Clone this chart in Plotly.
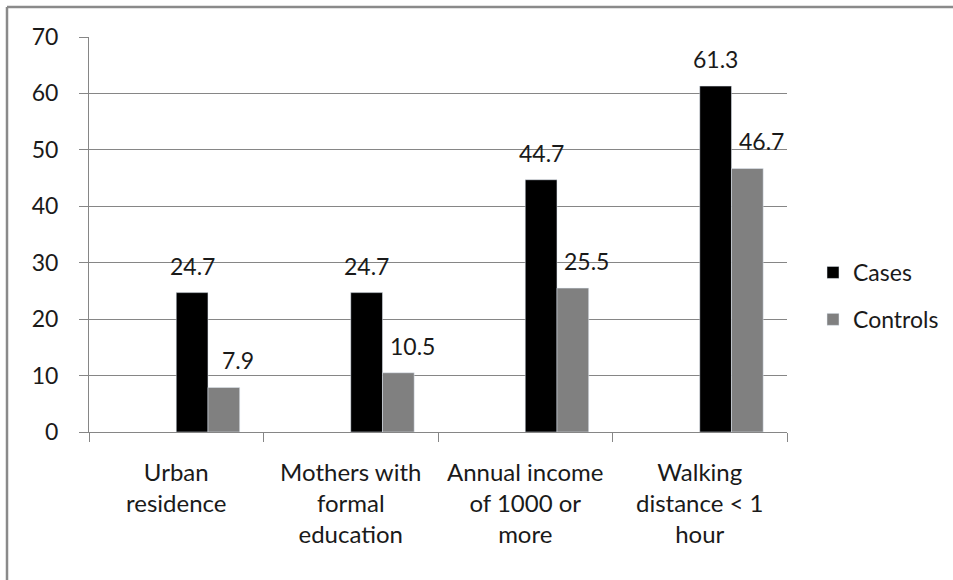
import plotly.graph_objects as go

categories = ["Urban<br>residence", "Mothers with<br>formal<br>education",
              "Annual income<br>of 1000 or<br>more", "Walking<br>distance < 1<br>hour"]
cases = [24.7, 24.7, 44.7, 61.3]
controls = [7.9, 10.5, 25.5, 46.7]

W, H = 953, 580
L, R, T, B = 89, 166, 37, 148
pw, ph = W - L - R, H - T - B

def px_x(p):
    return (p - L) / pw

def px_y(p):
    return (H - B - p) / ph

FONT = "Lato, Carlito, Calibri, sans-serif"
TXT = "#1a1a1a"
GRID = "#868686"
bw = 1 / 5.5

fig = go.Figure()
fig.add_trace(go.Bar(x=categories, y=cases, name="Cases", marker_color="#000000",
                     width=bw, offset=0, legendgroup="a"))
fig.add_trace(go.Bar(x=categories, y=controls, name="Controls", marker_color="#808080",
                     width=bw, offset=bw, legendgroup="b"))

for i, v in enumerate(cases):
    fig.add_annotation(x=i + bw / 2, y=v, text=f"{v}", showarrow=False, yshift=27,
                       yanchor="middle", font=dict(family=FONT, size=23, color=TXT))
for i, v in enumerate(controls):
    fig.add_annotation(x=i + 1.5 * bw, y=v, text=f"{v}", showarrow=False, yshift=27, xshift=14,
                       yanchor="middle", font=dict(family=FONT, size=23, color=TXT))

# outer chart border (top and left visible)
fig.add_shape(type="line", xref="paper", yref="paper", x0=px_x(7), x1=px_x(W + 10),
              y0=px_y(7), y1=px_y(7), line=dict(color="#8a8a8a", width=2.5))
fig.add_shape(type="line", xref="paper", yref="paper", x0=px_x(7), x1=px_x(7),
              y0=px_y(7), y1=px_y(H + 10), line=dict(color="#8a8a8a", width=2.5))

fig.update_layout(
    width=W, height=H,
    margin=dict(l=L, r=R, t=T, b=B, autoexpand=False),
    paper_bgcolor="white", plot_bgcolor="white",
    barmode="overlay",
    font=dict(family=FONT, size=23, color=TXT),
    showlegend=True,
    legend=dict(x=px_x(813), xanchor="left", y=px_y(296), yanchor="middle",
                font=dict(family=FONT, size=23, color=TXT), tracegroupgap=14,
                bgcolor="rgba(0,0,0,0)"),
    xaxis=dict(type="category", showline=True, linecolor=GRID, linewidth=1,
               ticks="outside", tickson="boundaries", ticklen=9, tickcolor=GRID,
               showgrid=False, ticklabelstandoff=19,
               tickfont=dict(family=FONT, size=24, color=TXT)),
    yaxis=dict(range=[0, 70], dtick=10, showline=True, linecolor=GRID, linewidth=1,
               ticks="outside", ticklen=9, tickcolor=GRID, gridcolor=GRID, gridwidth=1,
               zeroline=False, ticklabelstandoff=16),
)

fig.write_html("out.html")
